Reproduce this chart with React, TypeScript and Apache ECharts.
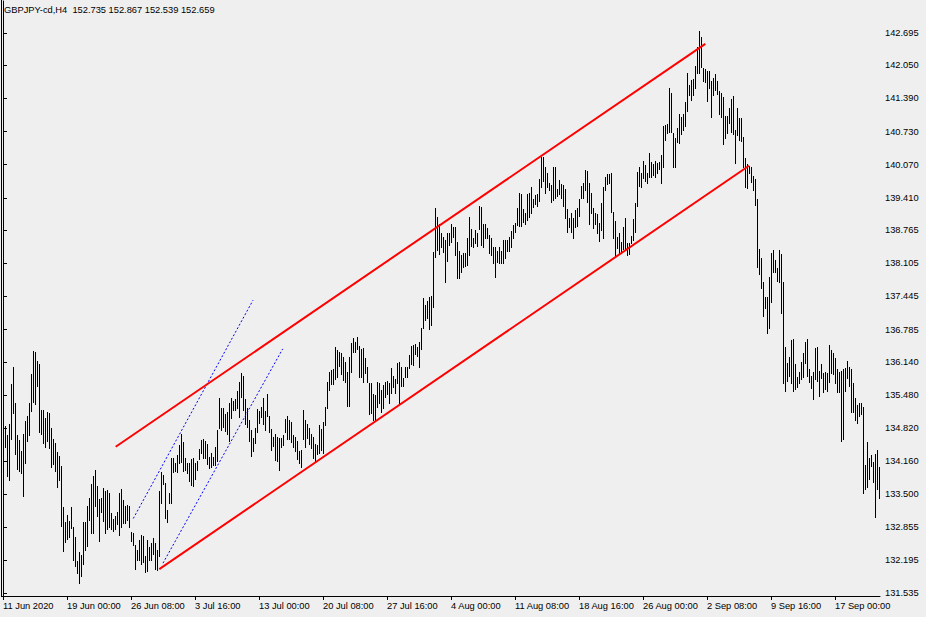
import React, { useEffect, useRef } from 'react';
import * as echarts from 'echarts';

const symbolTitle = 'GBPJPY-cd,H4  152.735 152.867 152.539 152.659';

const barHighs = [
  135.40, 134.86, 134.68, 134.90, 135.70, 136.04, 135.32, 134.68, 134.58, 134.37,
  134.70, 134.96, 135.06, 135.32, 135.90, 136.36, 136.34, 136.16, 136.10, 135.18,
  135.18, 135.02, 135.14, 135.12, 134.82, 134.60, 134.52, 134.35, 134.27, 134.07,
  133.25, 132.95, 133.09, 132.97, 133.25, 132.85, 132.65, 132.17, 132.35, 132.29,
  132.95, 132.95, 133.27, 133.43, 133.71, 133.87, 133.99, 133.67, 133.41, 133.43,
  133.63, 133.57, 133.59, 133.53, 133.13, 133.01, 133.07, 133.15, 133.53, 133.61,
  133.39, 133.27, 133.29, 133.27, 132.75, 132.73, 132.49, 132.39, 132.59, 132.69,
  132.67, 132.27, 132.59, 132.45, 132.53, 132.63, 132.53, 132.39, 133.57, 133.95,
  133.89, 133.73, 133.19, 133.53, 134.23, 134.23, 134.13, 134.29, 134.48, 134.70,
  134.54, 134.23, 134.13, 134.13, 134.21, 134.23, 134.13, 134.17, 134.40, 134.58,
  134.60, 134.56, 134.50, 134.25, 134.33, 134.25, 134.44, 134.78, 135.42, 135.22,
  135.22, 135.10, 135.14, 135.32, 135.42, 135.36, 135.40, 135.56, 135.74, 135.92,
  135.86, 135.40, 135.22, 134.98, 134.78, 134.62, 134.82, 135.20, 135.16, 135.24,
  135.42, 135.16, 135.50, 135.06, 134.80, 134.64, 134.70, 134.64, 134.62, 134.62,
  134.68, 135.00, 135.06, 134.98, 134.94, 134.68, 134.64, 134.56, 134.37, 134.39,
  135.18, 134.98, 134.90, 134.82, 134.70, 134.64, 134.50, 134.48, 134.88, 134.80,
  134.94, 135.24, 135.74, 135.94, 135.98, 136.00, 136.44, 136.38, 136.34, 136.32,
  136.24, 136.14, 135.94, 136.24, 136.52, 136.62, 136.54, 136.64, 136.46, 136.40,
  136.42, 136.22, 136.04, 135.72, 135.72, 135.50, 135.48, 135.74, 135.72, 135.58,
  135.68, 135.74, 135.76, 135.72, 136.02, 135.86, 135.80, 136.12, 136.14, 136.04,
  135.82, 136.04, 136.04, 136.28, 136.46, 136.48, 136.50, 136.44, 136.54, 136.82,
  137.41, 137.27, 137.35, 137.43, 137.45, 138.33, 139.21, 139.03, 138.89, 138.71,
  138.63, 138.57, 138.71, 138.71, 138.89, 138.83, 138.83, 138.53, 138.35, 138.27,
  138.31, 138.31, 138.61, 139.03, 138.79, 138.61, 138.77, 138.71, 139.25, 139.23,
  138.89, 138.89, 138.81, 138.67, 138.61, 138.43, 138.43, 138.35, 138.43, 138.35,
  138.57, 138.57, 138.57, 138.63, 138.75, 138.87, 138.91, 139.21, 139.51, 139.49,
  139.19, 139.11, 139.49, 139.51, 139.63, 139.39, 139.47, 139.49, 139.79, 140.22,
  140.22, 140.03, 139.91, 139.71, 139.67, 140.03, 140.03, 139.59, 139.77, 139.69,
  139.67, 139.59, 139.19, 139.01, 139.11, 139.01, 139.17, 139.21, 139.39, 139.65,
  139.71, 139.97, 139.95, 139.71, 139.51, 139.21, 139.11, 139.09, 138.91, 139.31,
  139.63, 139.83, 139.89, 139.89, 139.91, 139.13, 138.95, 138.63, 138.71, 138.53,
  138.83, 139.01, 138.51, 138.51, 138.65, 138.99, 139.31, 139.93, 140.03, 139.91,
  140.14, 140.06, 139.91, 140.30, 140.12, 140.08, 140.14, 140.10, 140.12, 140.26,
  140.84, 140.86, 140.88, 141.60, 141.50, 140.70, 140.60, 140.80, 141.08, 141.02,
  141.08, 141.32, 141.90, 141.66, 141.76, 141.78, 142.04, 142.42, 142.74, 142.62,
  142.00, 141.98, 141.94, 141.94, 141.74, 141.80, 141.88, 141.74, 141.54, 141.50,
  141.42, 141.04, 141.04, 141.20, 141.38, 141.44, 140.76, 141.20, 141.00, 141.00,
  140.62, 140.20, 140.08, 140.04, 140.03, 139.85, 139.79, 139.39, 138.39, 138.21,
  137.73, 137.43, 137.43, 137.83, 138.31, 138.37, 138.17, 138.01, 138.37, 138.29,
  137.73, 136.44, 136.12, 136.24, 136.58, 136.60, 136.10, 135.84, 135.94, 136.14,
  136.32, 136.54, 136.60, 136.00, 135.86, 135.94, 136.42, 136.44, 135.96, 136.10,
  135.92, 135.94, 135.92, 136.48, 136.38, 136.32, 136.22, 136.00, 135.94, 135.96,
  136.00, 136.02, 136.16, 136.04, 136.00, 135.72, 135.42, 135.28, 135.32, 135.32,
  135.24, 134.09, 134.54, 134.23, 134.29, 134.15, 134.31, 134.39, 134.05
];

const barLows = [
  134.54, 134.44, 133.87, 133.79, 134.60, 135.12, 134.31, 134.01, 133.97, 133.93,
  133.47, 134.13, 134.56, 134.68, 135.16, 135.34, 135.30, 135.66, 134.74, 134.70,
  134.52, 134.44, 134.56, 134.42, 134.05, 134.11, 133.97, 133.65, 133.79, 132.87,
  132.37, 132.55, 132.61, 132.65, 132.83, 132.19, 132.07, 131.93, 131.73, 131.87,
  132.11, 132.39, 132.47, 132.99, 132.73, 132.73, 133.27, 133.07, 132.57, 133.15,
  132.97, 132.73, 132.81, 132.85, 132.81, 132.77, 132.81, 132.91, 132.69, 132.85,
  132.93, 132.93, 132.99, 132.85, 132.57, 132.49, 132.01, 132.19, 132.19, 132.11,
  132.15, 131.95, 131.97, 132.19, 132.19, 132.31, 132.01, 131.99, 132.27, 133.33,
  133.71, 133.03, 132.95, 133.33, 133.33, 133.95, 133.97, 133.95, 134.13, 134.15,
  133.97, 133.99, 133.93, 133.77, 133.69, 133.67, 133.81, 133.99, 134.21, 134.33,
  134.23, 134.23, 134.11, 134.03, 134.05, 134.09, 134.09, 134.17, 134.82, 134.78,
  134.84, 134.76, 134.70, 134.56, 135.02, 135.18, 135.18, 135.22, 135.04, 135.44,
  135.18, 134.90, 134.84, 134.56, 134.27, 134.37, 134.52, 134.74, 134.92, 135.04,
  134.90, 134.78, 135.06, 134.74, 134.39, 134.46, 134.19, 134.17, 133.99, 134.44,
  134.48, 134.74, 134.60, 134.60, 134.54, 134.44, 134.37, 134.21, 134.13, 134.05,
  134.60, 134.44, 134.62, 134.50, 134.42, 134.23, 134.17, 134.31, 134.33, 134.39,
  134.33, 134.88, 135.22, 135.58, 135.70, 135.70, 135.80, 135.84, 136.06, 135.90,
  135.78, 135.74, 135.26, 135.26, 135.94, 136.34, 136.34, 136.40, 135.84, 135.84,
  135.74, 135.92, 135.74, 135.10, 135.12, 134.98, 134.98, 135.24, 135.32, 135.14,
  135.22, 135.44, 135.50, 135.32, 135.52, 135.64, 135.52, 135.72, 135.32, 135.66,
  135.66, 135.84, 135.84, 136.02, 136.10, 136.08, 136.30, 136.26, 136.04, 136.40,
  136.82, 136.98, 137.02, 136.80, 136.88, 137.24, 138.23, 138.37, 138.29, 138.43,
  138.33, 137.73, 138.15, 138.47, 138.53, 138.63, 138.27, 137.81, 137.81, 137.93,
  138.03, 138.05, 138.07, 138.27, 138.45, 138.43, 138.51, 138.45, 138.79, 138.47,
  138.43, 138.61, 138.61, 138.31, 138.27, 138.11, 137.83, 138.13, 138.11, 138.11,
  138.11, 138.21, 138.35, 138.35, 138.43, 138.61, 138.73, 138.87, 138.85, 138.85,
  138.93, 138.89, 138.97, 139.03, 139.11, 139.23, 139.29, 139.25, 139.35, 139.63,
  139.75, 139.51, 139.63, 139.57, 139.33, 139.37, 139.41, 139.45, 139.49, 139.41,
  139.25, 139.01, 138.73, 138.83, 138.73, 138.61, 138.83, 138.85, 139.05, 139.41,
  139.41, 139.57, 139.33, 138.89, 139.11, 138.81, 138.89, 138.71, 138.55, 138.77,
  138.61, 139.57, 139.69, 139.71, 139.13, 138.61, 138.23, 138.41, 138.31, 138.31,
  138.39, 138.37, 138.27, 138.29, 138.51, 138.57, 138.73, 139.25, 139.65, 139.63,
  139.81, 139.75, 139.71, 139.83, 139.83, 139.87, 139.83, 139.91, 139.99, 139.71,
  140.03, 140.56, 140.70, 140.72, 140.72, 140.03, 140.03, 140.52, 140.50, 140.68,
  140.76, 140.84, 141.14, 141.46, 141.36, 141.46, 141.60, 141.90, 141.90, 142.02,
  141.74, 141.72, 141.34, 141.60, 141.02, 141.46, 141.56, 141.48, 141.08, 141.02,
  140.48, 140.60, 140.70, 140.90, 140.72, 140.68, 140.10, 140.66, 140.56, 140.54,
  140.03, 139.63, 139.61, 139.91, 139.73, 139.57, 139.27, 138.03, 137.89, 137.61,
  137.06, 137.22, 136.72, 136.82, 137.33, 137.93, 137.93, 137.75, 137.73, 137.12,
  135.72, 135.56, 135.76, 135.86, 135.72, 135.56, 135.60, 135.64, 135.72, 135.80,
  135.84, 136.12, 135.86, 135.74, 135.62, 135.40, 135.80, 135.76, 135.46, 135.82,
  135.54, 135.60, 135.56, 135.74, 135.92, 135.90, 135.72, 135.54, 135.54, 134.56,
  134.60, 135.56, 135.82, 135.66, 135.14, 135.14, 134.98, 134.92, 135.06, 135.10,
  133.53, 133.61, 133.65, 133.81, 134.07, 133.75, 133.05, 133.61, 133.43
];

const timeLabels = [
  '11 Jun 2020', '19 Jun 00:00', '26 Jun 08:00', '3 Jul 16:00', '13 Jul 00:00',
  '20 Jul 08:00', '27 Jul 16:00', '4 Aug 00:00', '11 Aug 08:00', '18 Aug 16:00',
  '26 Aug 00:00', '2 Sep 08:00', '9 Sep 16:00', '17 Sep 00:00'
];
const barsPerLabel = 32;

const priceTicks = [
  142.695, 142.050, 141.390, 140.730, 140.070, 139.410, 138.765, 138.105, 137.445,
  136.785, 136.140, 135.480, 134.820, 134.160, 133.500, 132.855, 132.195, 131.535
];

// trend objects: [bar index, price]
const channelUpper = [[56.35, 134.45], [351.15, 142.48]];
const channelLower = [[78.15, 132.01], [373, 140.05]];
const dotLine1 = [[65.15, 133.02], [125, 137.37]];
const dotLine2 = [[80, 132.13], [139.85, 136.40]];

const FONT = "'Liberation Sans', Arial, sans-serif";
const FS = 9.3;

export default function App() {
  const ref = useRef<HTMLDivElement>(null);
  useEffect(() => {
    const chart = echarts.init(ref.current as HTMLDivElement, null, { renderer: 'svg' });
    const barData = barHighs.map((h, i) => [i, h, barLows[i]]);
    const xTickValues = timeLabels.map((_, k) => k * barsPerLabel);
    chart.setOption({
      animation: false,
      backgroundColor: '#efefef',
      textStyle: { fontFamily: FONT },
      grid: { left: 3, right: 46, top: 1, bottom: 21, outerBoundsMode: 'none', containLabel: false },
      title: {
        text: symbolTitle,
        left: 4,
        top: 5,
        padding: 0,
        textStyle: { fontSize: FS, fontWeight: 'normal', color: '#000', fontFamily: FONT }
      },
      xAxis: {
        type: 'value',
        min: 0,
        max: 438.5,
        axisLine: { show: true, lineStyle: { color: '#000', width: 1 } },
        axisTick: { show: true, customValues: xTickValues, length: 4, lineStyle: { color: '#000' } },
        axisLabel: {
          customValues: xTickValues,
          formatter: (v: number) => timeLabels[Math.round(v / barsPerLabel)] || '',
          align: 'left',
          margin: 5,
          fontSize: FS,
          color: '#000',
          fontFamily: FONT
        },
        splitLine: { show: false }
      },
      yAxis: {
        type: 'value',
        position: 'right',
        min: 131.475,
        max: 143.333,
        axisLine: { show: true, lineStyle: { color: '#000', width: 1 } },
        axisTick: { show: true, customValues: priceTicks, length: 4, lineStyle: { color: '#000' } },
        axisLabel: {
          customValues: priceTicks,
          formatter: (v: number) => v.toFixed(3),
          margin: 5,
          fontSize: FS,
          color: '#000',
          fontFamily: FONT
        },
        splitLine: { show: false }
      },
      graphic: [
        { type: 'line', silent: true, shape: { x1: 1.5, y1: 0, x2: 1.5, y2: 596.5 }, style: { stroke: '#000', lineWidth: 1 } },
        { type: 'line', silent: true, shape: { x1: 1, y1: 596.5, x2: 4, y2: 596.5 }, style: { stroke: '#000', lineWidth: 1 } }
      ],
      series: [
        {
          type: 'custom',
          data: barData,
          encode: { x: 0, y: [1, 2] },
          z: 2,
          silent: true,
          renderItem: (params: any, api: any) => {
            const x = api.value(0);
            const top = api.coord([x, api.value(1)]);
            const bot = api.coord([x, api.value(2)]);
            const px = Math.round(top[0]) + 0.5;
            return {
              type: 'line',
              shape: { x1: px, y1: Math.round(top[1]), x2: px, y2: Math.round(bot[1]) + 1 },
              style: { stroke: '#000', lineWidth: 1 }
            };
          }
        },
        {
          type: 'line', data: channelUpper, symbol: 'none', silent: true, z: 4,
          lineStyle: { color: '#ff0000', width: 2 }
        },
        {
          type: 'line', data: channelLower, symbol: 'none', silent: true, z: 4,
          lineStyle: { color: '#ff0000', width: 2 }
        },
        {
          type: 'line', data: dotLine1, symbol: 'none', silent: true, z: 3,
          lineStyle: { color: '#0000ff', width: 1, type: [2, 2] }
        },
        {
          type: 'line', data: dotLine2, symbol: 'none', silent: true, z: 3,
          lineStyle: { color: '#0000ff', width: 1, type: [2, 2] }
        }
      ]
    });
    return () => chart.dispose();
  }, []);
  return <div ref={ref} style={{ position: 'fixed', left: 0, top: 0, width: 926, height: 617 }} />;
}
